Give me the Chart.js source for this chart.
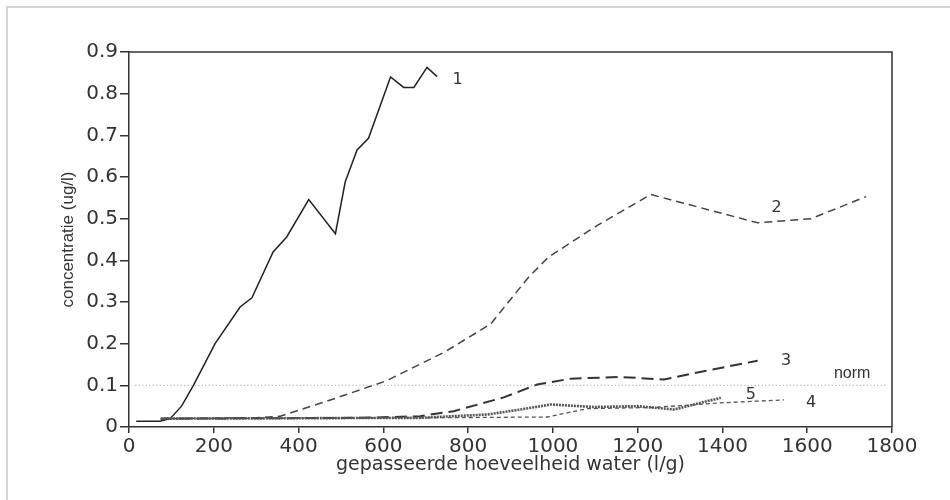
<!DOCTYPE html>
<html>
<head>
<meta charset="utf-8">
<script src="https://cdn.jsdelivr.net/npm/chart.js@4/dist/chart.umd.min.js"></script>
<style>
  html, body { margin: 0; padding: 0; background: #fff; }
  #wrap { width: 950px; height: 500px; }
</style>
</head>
<body>
<div id="wrap"><canvas id="c" width="950" height="500"></canvas></div>
<script>
// ---- data ----
const xTicks = [0, 200, 400, 600, 800, 1000, 1200, 1400, 1600, 1800];
const yTicks = [0, 0.1, 0.2, 0.3, 0.4, 0.5, 0.6, 0.7, 0.8, 0.9];

const s1x = [17, 73, 97, 124, 152, 203, 262, 290, 340, 372, 424, 487, 510, 538, 565, 617, 648, 672, 703, 727];
const s1y = [0.014, 0.014, 0.02, 0.05, 0.1, 0.2, 0.288, 0.31, 0.42, 0.456, 0.546, 0.464, 0.588, 0.665, 0.693, 0.84, 0.815, 0.815, 0.863, 0.841];

const s2x = [75, 300, 357, 467, 605, 743, 853, 943, 990, 1105, 1231, 1483, 1609, 1739];
const s2y = [0.02, 0.022, 0.026, 0.062, 0.11, 0.179, 0.247, 0.36, 0.408, 0.484, 0.558, 0.49, 0.5, 0.553];

const s3x = [75, 550, 687, 766, 884, 963, 1042, 1160, 1262, 1356, 1483];
const s3y = [0.02, 0.022, 0.026, 0.038, 0.071, 0.102, 0.116, 0.12, 0.114, 0.134, 0.159];

const s4x = [75, 687, 987, 1081, 1239, 1396, 1545];
const s4y = [0.02, 0.022, 0.024, 0.044, 0.047, 0.058, 0.065];

const s5x = [75, 687, 845, 924, 995, 1096, 1199, 1286, 1317, 1396];
const s5y = [0.02, 0.022, 0.03, 0.042, 0.054, 0.048, 0.05, 0.042, 0.05, 0.07];

const normX = [15, 1790];
const normY = [0.1, 0.1];

const labelTexts = ['1', '2', '3', '4', '5', 'norm'];
const labelX = [775, 1528, 1550, 1609, 1467, 1706];
const labelY = [0.834, 0.527, 0.159, 0.059, 0.078, 0.127];

const xTitle = 'gepasseerde hoeveelheid water (l/g)';
const yTitle = 'concentratie (ug/l)';

function pts(xs, ys) { return xs.map((x, i) => ({ x: x, y: ys[i] })); }

const INK = '#333';

const labelsPlugin = {
  id: 'seriesLabels',
  afterDatasetsDraw(chart) {
    const { ctx, scales: { x, y } } = chart;
    ctx.save();
    ctx.fillStyle = INK;
    ctx.textAlign = 'center';
    ctx.textBaseline = 'middle';
    labelTexts.forEach((t, i) => {
      ctx.font = t === 'norm' ? '16px "Liberation Sans"' : '16px "DejaVu Sans"';
      ctx.fillText(t, x.getPixelForValue(labelX[i]), y.getPixelForValue(labelY[i]));
    });
    ctx.restore();
  }
};

const framePlugin = {
  id: 'frame',
  beforeDraw(chart) {
    const { ctx, width, height } = chart;
    ctx.save();
    ctx.fillStyle = '#fff';
    ctx.fillRect(0, 0, width, height);
    ctx.strokeStyle = '#c8c8c8';
    ctx.lineWidth = 1.5;
    ctx.beginPath();
    ctx.moveTo(7, height);
    ctx.lineTo(7, 7);
    ctx.lineTo(width, 7);
    ctx.stroke();
    ctx.restore();
  },
  afterDatasetsDraw(chart) {
    const { ctx, chartArea: a } = chart;
    ctx.save();
    ctx.strokeStyle = INK;
    ctx.lineWidth = 1.5;
    ctx.beginPath();
    ctx.moveTo(a.left, a.top);
    ctx.lineTo(a.right, a.top);
    ctx.lineTo(a.right, a.bottom);
    ctx.stroke();
    ctx.restore();
  }
};

const common = { showLine: true, pointRadius: 0, tension: 0, fill: false };

new Chart(document.getElementById('c'), {
  type: 'scatter',
  data: {
    datasets: [
      Object.assign({ data: pts(normX, normY), borderColor: '#9a9a9a', borderWidth: 1, borderDash: [1, 2.5] }, common),
      Object.assign({ data: pts(s4x, s4y), borderColor: '#555', borderWidth: 1.3, borderDash: [4, 3] }, common),
      Object.assign({ data: pts(s5x, s5y), borderColor: '#555', borderWidth: 2.6, borderDash: [2, 1] }, common),
      Object.assign({ data: pts(s3x, s3y), borderColor: '#333', borderWidth: 2, borderDash: [12, 6] }, common),
      Object.assign({ data: pts(s2x, s2y), borderColor: '#444', borderWidth: 1.5, borderDash: [8, 5] }, common),
      Object.assign({ data: pts(s1x, s1y), borderColor: '#222', borderWidth: 1.5 }, common)
    ]
  },
  options: {
    responsive: false,
    animation: false,
    layout: { padding: { left: 0, top: 52, right: 58, bottom: 0 } },
    plugins: { legend: { display: false }, tooltip: { enabled: false } },
    scales: {
      x: {
        type: 'linear', min: 0, max: 1800,
        afterBuildTicks(s) { s.ticks = xTicks.map(v => ({ value: v })); },
        afterFit(s) { s.height = 73; },
        ticks: { color: INK, font: { family: 'DejaVu Sans', size: 20 }, padding: 2, maxRotation: 0, callback: v => String(v) },
        grid: { drawOnChartArea: false, drawTicks: true, tickLength: 6, color: INK, lineWidth: 1.5 },
        border: { display: true, color: INK, width: 1.5 },
        title: { display: true, text: xTitle, color: INK, font: { family: 'DejaVu Sans', size: 19 }, padding: { top: 0, bottom: 23.6 } }
      },
      y: {
        type: 'linear', min: 0, max: 0.9,
        afterBuildTicks(s) { s.ticks = yTicks.map(v => ({ value: v })); },
        afterFit(s) { s.width = 129; },
        ticks: { color: INK, font: { family: 'DejaVu Sans', size: 20 }, padding: 2, callback: v => (v === 0 ? '0' : Number(v).toFixed(1)) },
        grid: { drawOnChartArea: false, drawTicks: true, tickLength: 9, color: INK, lineWidth: 1.5 },
        border: { display: true, color: INK, width: 1.5 },
        title: { display: true, text: yTitle, color: INK, font: { family: 'Liberation Sans', size: 17 }, padding: { top: 57.8, bottom: 0 } }
      }
    }
  },
  plugins: [framePlugin, labelsPlugin]
});
</script>
</body>
</html>
